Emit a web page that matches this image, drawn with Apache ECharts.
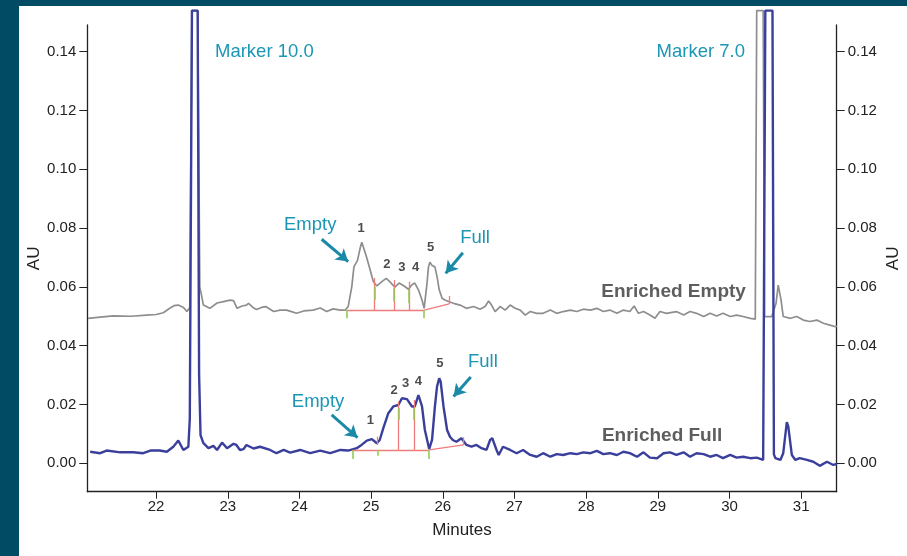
<!DOCTYPE html>
<html><head><meta charset="utf-8">
<script src="https://cdn.jsdelivr.net/npm/echarts@6/dist/echarts.min.js"></script>
<style>
html,body{margin:0;padding:0;background:#fff;}
#wrap{position:relative;width:907px;height:556px;overflow:hidden;background:#fff;}
#chart{position:absolute;left:0;top:0;width:907px;height:556px;}
#bandL{position:absolute;left:0;top:0;width:19px;height:556px;background:#024b65;}
#bandT{position:absolute;left:0;top:0;width:907px;height:6px;background:#024b65;}
</style></head><body>
<div id="wrap"><div id="chart"></div><div id="bandL"></div><div id="bandT"></div></div>
<script>
// ---- data ----
const xTicks = [22,23,24,25,26,27,28,29,30,31];
const yTicks = [0,0.02,0.04,0.06,0.08,0.10,0.12,0.14];

const timeEmpty = [21.05,21.22,21.40,21.65,21.87,22.00,22.10,22.19,22.25,22.31,22.38,22.43,22.47,22.50,22.58,22.61,22.66,22.75,22.85,22.94,23.03,23.08,23.13,23.20,23.26,23.29,23.35,23.40,23.47,23.53,23.64,23.73,23.82,23.90,23.96,24.06,24.19,24.29,24.38,24.47,24.57,24.64,24.68,24.73,24.76,24.81,24.85,24.87,24.89,24.93,24.98,25.03,25.08,25.15,25.21,25.26,25.33,25.39,25.46,25.52,25.57,25.61,25.66,25.71,25.74,25.78,25.80,25.82,25.85,25.87,25.89,25.92,25.95,25.99,26.03,26.08,26.15,26.24,26.33,26.43,26.52,26.59,26.64,26.68,26.73,26.80,26.87,26.94,27.01,27.08,27.15,27.22,27.31,27.40,27.50,27.59,27.68,27.78,27.87,27.96,28.06,28.15,28.24,28.33,28.43,28.52,28.61,28.67,28.73,28.80,28.89,28.96,29.03,29.12,29.26,29.36,29.45,29.54,29.64,29.73,29.82,29.91,30.01,30.10,30.19,30.29,30.36,30.38,30.47,30.49,30.59,30.65,30.68,30.72,30.75,30.85,30.94,31.03,31.12,31.22,31.31,31.40,31.47,31.50];
const auEmpty = [0.0493,0.0497,0.0501,0.0500,0.0504,0.0506,0.0512,0.0527,0.0536,0.0538,0.0530,0.0516,0.0530,0.154,0.154,0.0600,0.0538,0.0527,0.0545,0.0550,0.0555,0.0553,0.0527,0.0535,0.0538,0.0544,0.0530,0.0523,0.0530,0.0533,0.0516,0.0521,0.0521,0.0515,0.0510,0.0518,0.0521,0.0528,0.0516,0.0525,0.0521,0.0521,0.0533,0.0600,0.0668,0.0690,0.0735,0.0752,0.0746,0.0707,0.0663,0.0618,0.0603,0.0618,0.0629,0.0618,0.0599,0.0613,0.0603,0.0592,0.0607,0.0613,0.0590,0.0555,0.0527,0.0613,0.0668,0.0684,0.0673,0.0668,0.0668,0.0635,0.0590,0.0561,0.0555,0.0550,0.0544,0.0538,0.0527,0.0533,0.0524,0.0533,0.0552,0.0538,0.0516,0.0533,0.0521,0.0538,0.0527,0.0521,0.0504,0.0516,0.0510,0.0510,0.0521,0.0510,0.0516,0.0521,0.0516,0.0524,0.0521,0.0527,0.0516,0.0521,0.0510,0.0521,0.0516,0.0535,0.0510,0.0516,0.0504,0.0493,0.0516,0.0510,0.0516,0.0504,0.0516,0.0510,0.0499,0.0510,0.0501,0.0510,0.0499,0.0504,0.0499,0.0493,0.0490,0.154,0.154,0.0499,0.0499,0.0544,0.0606,0.0555,0.0499,0.0493,0.0499,0.0487,0.0482,0.0487,0.0476,0.0470,0.0465,0.0466];

const timeFull = [21.08,21.22,21.31,21.50,21.68,21.82,21.92,22.05,22.15,22.24,22.31,22.38,22.45,22.47,22.50,22.58,22.60,22.62,22.66,22.73,22.80,22.85,22.92,22.99,23.08,23.12,23.17,23.22,23.26,23.36,23.45,23.59,23.68,23.78,23.87,24.01,24.15,24.29,24.43,24.57,24.68,24.80,24.85,24.94,25.01,25.08,25.12,25.17,25.24,25.31,25.38,25.43,25.50,25.57,25.61,25.66,25.71,25.75,25.81,25.85,25.89,25.92,25.95,25.97,26.01,26.06,26.10,26.14,26.19,26.26,26.33,26.40,26.47,26.54,26.61,26.66,26.69,26.75,26.78,26.84,26.94,27.03,27.12,27.22,27.31,27.40,27.50,27.59,27.68,27.78,27.87,27.96,28.06,28.15,28.24,28.33,28.43,28.52,28.61,28.71,28.80,28.89,28.99,29.08,29.17,29.26,29.36,29.45,29.54,29.64,29.73,29.82,29.91,30.01,30.10,30.19,30.29,30.38,30.47,30.49,30.50,30.60,30.62,30.64,30.71,30.75,30.80,30.82,30.87,30.92,30.98,31.08,31.17,31.26,31.36,31.45,31.50];
const auFull = [0.0039,0.0034,0.0043,0.0037,0.0037,0.0034,0.0043,0.0043,0.0039,0.0056,0.0077,0.0045,0.0056,0.0150,0.154,0.154,0.0300,0.0095,0.0068,0.0051,0.0059,0.0045,0.0070,0.0051,0.0066,0.0062,0.0045,0.0048,0.0062,0.0050,0.0056,0.0045,0.0034,0.0045,0.0036,0.0045,0.0034,0.0043,0.0034,0.0045,0.0043,0.0051,0.0059,0.0077,0.0082,0.0068,0.0079,0.0119,0.0170,0.0193,0.0198,0.0221,0.0218,0.0193,0.0193,0.0232,0.0193,0.0113,0.0048,0.0079,0.0193,0.0261,0.0289,0.0278,0.0193,0.0113,0.0090,0.0079,0.0073,0.0085,0.0062,0.0056,0.0062,0.0051,0.0045,0.0079,0.0085,0.0045,0.0028,0.0056,0.0045,0.0034,0.0045,0.0028,0.0022,0.0034,0.0022,0.0031,0.0028,0.0034,0.0031,0.0037,0.0034,0.0042,0.0031,0.0034,0.0028,0.0039,0.0034,0.0022,0.0037,0.0019,0.0017,0.0034,0.0037,0.0028,0.0037,0.0022,0.0034,0.0031,0.0022,0.0028,0.0017,0.0028,0.0019,0.0022,0.0017,0.0019,0.0011,0.0015,0.154,0.154,0.0030,0.0017,0.0011,0.0034,0.0140,0.0125,0.0028,0.0011,0.0017,0.0011,0.0005,-0.0009,0.0005,-0.0006,-0.0002];

// integration marks (time1, au1, time2, au2)
const redEmpty = [[24.66,0.0521,25.74,0.0521],[25.74,0.0521,26.09,0.0542],[26.09,0.0542,26.09,0.0569],[25.05,0.0521,25.05,0.0630],[25.32,0.0521,25.32,0.0623],[25.53,0.0521,25.53,0.0618]];
const greenEmpty = [[24.66,0.0521,24.66,0.0493],[25.74,0.0521,25.74,0.0493],[25.05,0.0601,25.05,0.0555],[25.32,0.0596,25.32,0.0550],[25.53,0.0590,25.53,0.0544]];
const redFull = [[24.74,0.0045,25.81,0.0045],[25.81,0.0045,26.29,0.0062],[26.29,0.0062,26.29,0.0088],[25.09,0.0090,25.09,0.0062],[25.38,0.0210,25.38,0.0045],[25.60,0.0215,25.60,0.0045]];
const greenFull = [[24.74,0.0045,24.74,0.0014],[25.81,0.0045,25.81,0.0014],[25.09,0.0045,25.09,0.0025],[25.38,0.0188,25.38,0.0147],[25.60,0.0188,25.60,0.0147]];
const arrows = [[24.31,0.0762,24.68,0.0686],[26.28,0.0716,26.04,0.0646],[24.45,0.0164,24.81,0.0087],[26.39,0.0293,26.15,0.0227]];

const tealNotes = [['Marker 10.0',23.51,0.1399],['Marker 7.0',29.60,0.1399],['Empty',24.15,0.0811],['Full',26.45,0.0766],['Empty',24.26,0.0209],['Full',26.56,0.0345]];
const seriesNotes = [['Enriched Empty',29.22,0.0583],['Enriched Full',29.06,0.0093]];
const peakNotes = [['1',24.86,0.0800],['2',25.22,0.0678],['3',25.43,0.0665],['4',25.62,0.0665],['5',25.83,0.0733],
                   ['1',24.99,0.0147],['2',25.32,0.0247],['3',25.48,0.0272],['4',25.66,0.0278],['5',25.96,0.0340]];

// ---- chart ----
const font = "'Liberation Sans', Arial, Helvetica, sans-serif";
const zip = (a,b) => a.map((v,i)=>[v,b[i]]);
const seg = s => [{coord:[s[0],s[1]]},{coord:[s[2],s[3]]}];
const pt = (n, style) => ({name:n[0], coord:[n[1],n[2]], label:style});

const yAxisBase = (pos, gap) => ({
  type:'value', position:pos, min:-0.0097, max:0.1491,
  splitLine:{show:false},
  axisLine:{show:true, onZero:false, lineStyle:{color:'#222', width:1.3}},
  axisTick:{show:true, customValues:yTicks, length:8, lineStyle:{color:'#222', width:1}},
  axisLabel:{customValues:yTicks, formatter:v=>v.toFixed(2), fontSize:15, color:'#222', fontFamily:font, margin:11},
  name:'AU', nameLocation:'middle', nameGap:gap, nameMoveOverlap:false,
  nameTextStyle:{fontSize:17, color:'#222', fontFamily:font}
});

const chart = echarts.init(document.getElementById('chart'));
chart.setOption({
  animation:false,
  backgroundColor:'transparent',
  grid:{left:87.3, right:70.3, top:25, bottom:64.3, containLabel:false, outerBoundsMode:'none'},
  xAxis:{
    type:'value', min:21.04, max:31.496,
    splitLine:{show:false},
    axisLine:{show:true, onZero:false, lineStyle:{color:'#222', width:1.3}},
    axisTick:{show:true, customValues:xTicks, length:7, lineStyle:{color:'#222'}},
    axisLabel:{customValues:xTicks, fontSize:15, color:'#222', fontFamily:font, margin:8},
    name:'Minutes', nameLocation:'middle', nameGap:30, nameMoveOverlap:false,
    nameTextStyle:{fontSize:17, color:'#222', fontFamily:font}
  },
  yAxis:[yAxisBase('left',44), yAxisBase('right',48)],
  series:[
    {type:'line', name:'Enriched Empty', data:zip(timeEmpty,auEmpty), showSymbol:false, symbol:'none', clip:false,
     lineStyle:{color:'#8e8e8e', width:1.7}, z:2},
    {type:'line', name:'Enriched Full', data:zip(timeFull,auFull), showSymbol:false, symbol:'none', clip:false,
     lineStyle:{color:'#3b3f9c', width:2.4}, z:3},
    {type:'line', data:[], z:4, clip:false,
     markLine:{silent:true, symbol:'none', animation:false, label:{show:false},
       lineStyle:{color:'#f07b7b', width:1.3, type:'solid'}, emphasis:{disabled:true},
       data:redEmpty.concat(redFull).map(seg)}},
    {type:'line', data:[], z:5, clip:false,
     markLine:{silent:true, symbol:'none', animation:false, label:{show:false},
       lineStyle:{color:'#93cc55', width:1.6, type:'solid'}, emphasis:{disabled:true},
       data:greenEmpty.concat(greenFull).map(seg)}},
    {type:'line', data:[], z:6, clip:false,
     markLine:{silent:true, symbol:['none','arrow'], symbolSize:[11,12], animation:false, label:{show:false},
       lineStyle:{color:'#1a8aa8', width:3, type:'solid'}, emphasis:{disabled:true},
       data:arrows.map(seg)}},
    {type:'line', data:[], z:7, clip:false,
     markPoint:{silent:true, symbol:'circle', symbolSize:1, itemStyle:{color:'rgba(0,0,0,0)'}, animation:false,
       label:{show:true, position:'inside', formatter:'{b}'},
       data:[].concat(
         tealNotes.map(n=>pt(n,{fontSize:18.5, color:'#1b96b4', fontFamily:font})),
         seriesNotes.map(n=>pt(n,{fontSize:19, fontWeight:'bold', color:'#5e5e5e', fontFamily:font})),
         peakNotes.map(n=>pt(n,{fontSize:13, fontWeight:'bold', color:'#4d4d4d', fontFamily:font}))
       )}}
  ]
});
</script>
</body></html>
